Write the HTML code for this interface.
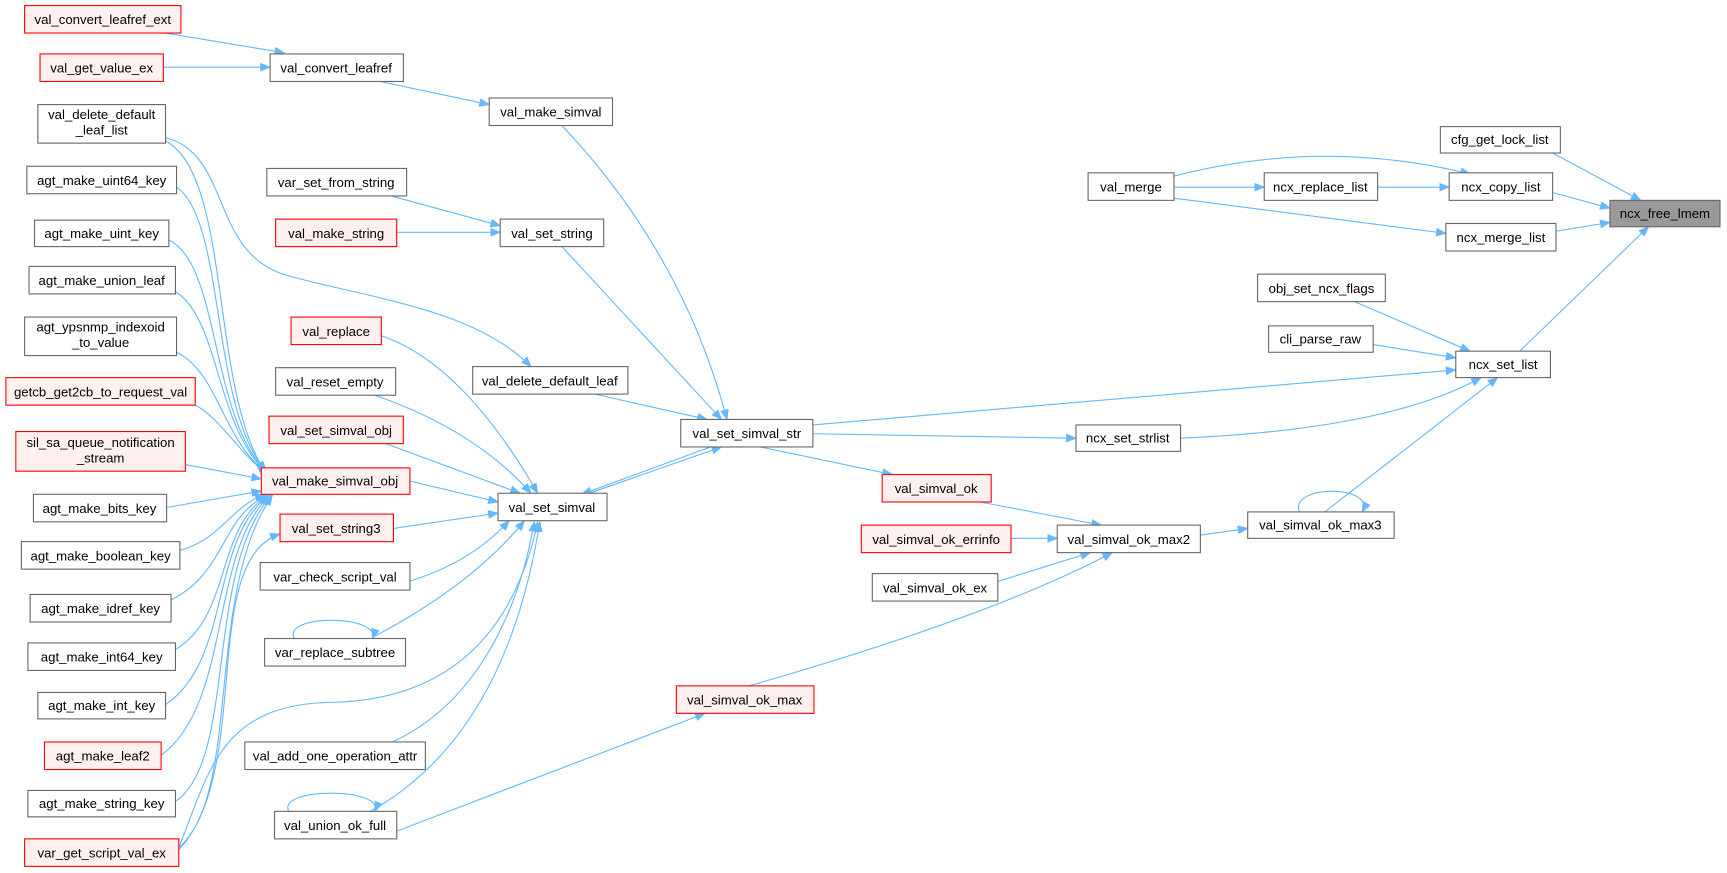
<!DOCTYPE html>
<html><head><meta charset="utf-8"><style>
html,body{margin:0;padding:0;background:#fff;}
svg{display:block;}
text{font-family:"Liberation Sans",Arial,sans-serif;font-size:12px;fill:#000;text-anchor:middle;}
.n{fill:#fff;stroke:#666;stroke-width:1;}
.r{fill:#fff0f0;stroke:#ff0000;stroke-width:1;}
.g{fill:#999;stroke:#666;stroke-width:1;}
.e{fill:none;stroke:#63b8ff;stroke-width:1;marker-end:url(#a);}
</style></head><body>
<svg width="1727" height="873" viewBox="0 0 1568 793" xmlns="http://www.w3.org/2000/svg">
<defs><marker id="a" markerWidth="10" markerHeight="8" refX="9" refY="4" orient="auto" markerUnits="userSpaceOnUse"><path d="M0,0 L10,4 L0,8 z" fill="#63b8ff"/></marker></defs>
<g>
<path class="e" d="M150,30 L258,48"/>
<path class="e" d="M148,61 L245,61"/>
<path class="e" d="M345,74 L444,95"/>
<path class="e" d="M510,114 Q620,230 660,381"/>
<path class="e" d="M355,178 L454,205"/>
<path class="e" d="M360,211 L454,211"/>
<path class="e" d="M510,224 L655,381"/>
<path class="e" d="M150,125 C210,140 190,230 260,250 S430,280 482,333"/>
<path class="e" d="M150,128 C210,160 190,350 240,428"/>
<path class="e" d="M160,170 C205,200 190,370 242,429"/>
<path class="e" d="M153,218 C200,240 190,380 243,430"/>
<path class="e" d="M159,265 C200,290 195,390 244,431"/>
<path class="e" d="M160,320 C200,340 200,400 245,432"/>
<path class="e" d="M177,368 C200,380 215,410 245,433"/>
<path class="e" d="M168,422 L237,435"/>
<path class="e" d="M151,461 L237,446"/>
<path class="e" d="M163,500 C200,490 210,460 240,449"/>
<path class="e" d="M155,545 C205,520 200,470 242,450"/>
<path class="e" d="M159,590 C210,560 195,480 243,450"/>
<path class="e" d="M150,640 C210,600 190,490 244,450"/>
<path class="e" d="M146,686 C210,640 190,500 245,450"/>
<path class="e" d="M159,728 C215,690 185,520 246,450"/>
<path class="e" d="M162,770 C220,720 185,540 247,450"/>
<path class="e" d="M162,772 C230,700 180,510 254,485"/>
<path class="e" d="M162,770 C190,700 200,640 300,638 C420,636 470,560 488,474"/>
<path class="e" d="M346,305 Q420,330 488,448"/>
<path class="e" d="M340,359 Q430,390 482,448"/>
<path class="e" d="M350,403 L472,448"/>
<path class="e" d="M372,437 L452,456"/>
<path class="e" d="M357,480 L452,466"/>
<path class="e" d="M340,536 Q420,520 462,473"/>
<path class="e" d="M340,578 Q430,530 476,473"/>
<path class="e" d="M356,674 C430,640 470,560 485,474"/>
<path class="e" d="M336,737 C420,690 470,600 490,474"/>
<path class="e" d="M535,448 L655,406"/>
<path class="e" d="M645,406 L528,449"/>
<path class="e" d="M540,358 L642,381"/>
<path class="e" d="M738,386 L1322,336"/>
<path class="e" d="M738,394 L977,398"/>
<path class="e" d="M690,406 L810,431"/>
<path class="e" d="M1072,398 Q1260,390 1345,343"/>
<path class="e" d="M890,456 L1000,477"/>
<path class="e" d="M918,489 L960,489"/>
<path class="e" d="M900,530 L990,502"/>
<path class="e" d="M680,623 Q900,560 1010,502"/>
<path class="e" d="M360,755 L640,648"/>
<path class="e" d="M1090,486 L1133,480"/>
<path class="e" d="M1180,465 C1170,440 1250,440 1237,465"/>
<path class="e" d="M1203,465 L1360,343"/>
<path class="e" d="M1230,274 L1335,319"/>
<path class="e" d="M1247,313 L1322,325"/>
<path class="e" d="M1380,319 L1497,206"/>
<path class="e" d="M1410,139 L1490,182"/>
<path class="e" d="M1410,175 L1462,189"/>
<path class="e" d="M1413,210 L1462,202"/>
<path class="e" d="M1066,170 L1148,170"/>
<path class="e" d="M1251,170 L1316,170"/>
<path class="e" d="M1066,160 Q1200,125 1335,158"/>
<path class="e" d="M1066,180 L1313,212"/>
<path class="e" d="M267,580 C255,558 345,558 338,580"/>
<path class="e" d="M262,737 C250,715 350,715 340,737"/>
</g>
<g>
<rect class="r" x="22" y="5" width="142" height="25"/><text x="93" y="22">val_convert_leafref_ext</text>
<rect class="r" x="36" y="49" width="112" height="25"/><text x="92" y="66">val_get_value_ex</text>
<rect class="n" x="245" y="49" width="121" height="25"/><text x="305" y="66">val_convert_leafref</text>
<rect class="n" x="34" y="95" width="116" height="35"/><text x="92" y="108">val_delete_default</text><text x="92" y="122">_leaf_list</text>
<rect class="n" x="24" y="151" width="136" height="25"/><text x="92" y="168">agt_make_uint64_key</text>
<rect class="n" x="31" y="200" width="122" height="24"/><text x="92" y="216">agt_make_uint_key</text>
<rect class="n" x="26" y="242" width="133" height="25"/><text x="92" y="259">agt_make_union_leaf</text>
<rect class="n" x="22" y="288" width="138" height="35"/><text x="91" y="301">agt_ypsnmp_indexoid</text><text x="91" y="315">_to_value</text>
<rect class="r" x="5" y="343" width="172" height="25"/><text x="91" y="360">getcb_get2cb_to_request_val</text>
<rect class="r" x="14" y="392" width="154" height="36"/><text x="91" y="406">sil_sa_queue_notification</text><text x="91" y="420">_stream</text>
<rect class="n" x="30" y="449" width="121" height="25"/><text x="90" y="466">agt_make_bits_key</text>
<rect class="n" x="19" y="492" width="144" height="25"/><text x="91" y="509">agt_make_boolean_key</text>
<rect class="n" x="27" y="540" width="128" height="25"/><text x="91" y="557">agt_make_idref_key</text>
<rect class="n" x="25" y="584" width="134" height="25"/><text x="92" y="601">agt_make_int64_key</text>
<rect class="n" x="34" y="629" width="116" height="24"/><text x="92" y="645">agt_make_int_key</text>
<rect class="r" x="40" y="674" width="106" height="25"/><text x="93" y="691">agt_make_leaf2</text>
<rect class="n" x="25" y="718" width="134" height="24"/><text x="92" y="734">agt_make_string_key</text>
<rect class="r" x="22" y="762" width="140" height="25"/><text x="92" y="779">var_get_script_val_ex</text>
<rect class="n" x="444" y="89" width="112" height="25"/><text x="500" y="106">val_make_simval</text>
<rect class="n" x="242" y="153" width="127" height="25"/><text x="305" y="170">var_set_from_string</text>
<rect class="r" x="250" y="199" width="110" height="25"/><text x="305" y="216">val_make_string</text>
<rect class="n" x="454" y="199" width="94" height="25"/><text x="501" y="216">val_set_string</text>
<rect class="r" x="264" y="288" width="82" height="25"/><text x="305" y="305">val_replace</text>
<rect class="n" x="250" y="334" width="109" height="25"/><text x="304" y="351">val_reset_empty</text>
<rect class="r" x="244" y="378" width="122" height="25"/><text x="305" y="395">val_set_simval_obj</text>
<rect class="r" x="237" y="425" width="135" height="24"/><text x="304" y="441">val_make_simval_obj</text>
<rect class="r" x="254" y="467" width="103" height="25"/><text x="305" y="484">val_set_string3</text>
<rect class="n" x="236" y="511" width="136" height="25"/><text x="304" y="528">var_check_script_val</text>
<rect class="n" x="240" y="580" width="128" height="25"/><text x="304" y="597">var_replace_subtree</text>
<rect class="n" x="222" y="674" width="164" height="25"/><text x="304" y="691">val_add_one_operation_attr</text>
<rect class="n" x="249" y="737" width="111" height="25"/><text x="304" y="754">val_union_ok_full</text>
<rect class="n" x="429" y="333" width="141" height="25"/><text x="499" y="350">val_delete_default_leaf</text>
<rect class="n" x="618" y="381" width="120" height="25"/><text x="678" y="398">val_set_simval_str</text>
<rect class="n" x="452" y="448" width="99" height="25"/><text x="501" y="465">val_set_simval</text>
<rect class="r" x="801" y="431" width="99" height="25"/><text x="850" y="448">val_simval_ok</text>
<rect class="r" x="782" y="477" width="136" height="25"/><text x="850" y="494">val_simval_ok_errinfo</text>
<rect class="n" x="792" y="521" width="114" height="25"/><text x="849" y="538">val_simval_ok_ex</text>
<rect class="r" x="614" y="623" width="125" height="25"/><text x="676" y="640">val_simval_ok_max</text>
<rect class="n" x="960" y="477" width="130" height="25"/><text x="1025" y="494">val_simval_ok_max2</text>
<rect class="n" x="1133" y="465" width="133" height="24"/><text x="1199" y="481">val_simval_ok_max3</text>
<rect class="n" x="977" y="386" width="95" height="24"/><text x="1024" y="402">ncx_set_strlist</text>
<rect class="n" x="1322" y="319" width="86" height="24"/><text x="1365" y="335">ncx_set_list</text>
<rect class="n" x="1142" y="249" width="116" height="25"/><text x="1200" y="266">obj_set_ncx_flags</text>
<rect class="n" x="1152" y="296" width="95" height="24"/><text x="1199" y="312">cli_parse_raw</text>
<rect class="n" x="988" y="157" width="78" height="25"/><text x="1027" y="174">val_merge</text>
<rect class="n" x="1148" y="157" width="103" height="25"/><text x="1199" y="174">ncx_replace_list</text>
<rect class="n" x="1316" y="157" width="94" height="25"/><text x="1363" y="174">ncx_copy_list</text>
<rect class="n" x="1308" y="115" width="109" height="24"/><text x="1362" y="131">cfg_get_lock_list</text>
<rect class="n" x="1313" y="203" width="100" height="25"/><text x="1363" y="220">ncx_merge_list</text>
<rect class="g" x="1462" y="182" width="100" height="24"/><text x="1512" y="198">ncx_free_lmem</text>
</g>
</svg>
</body></html>
